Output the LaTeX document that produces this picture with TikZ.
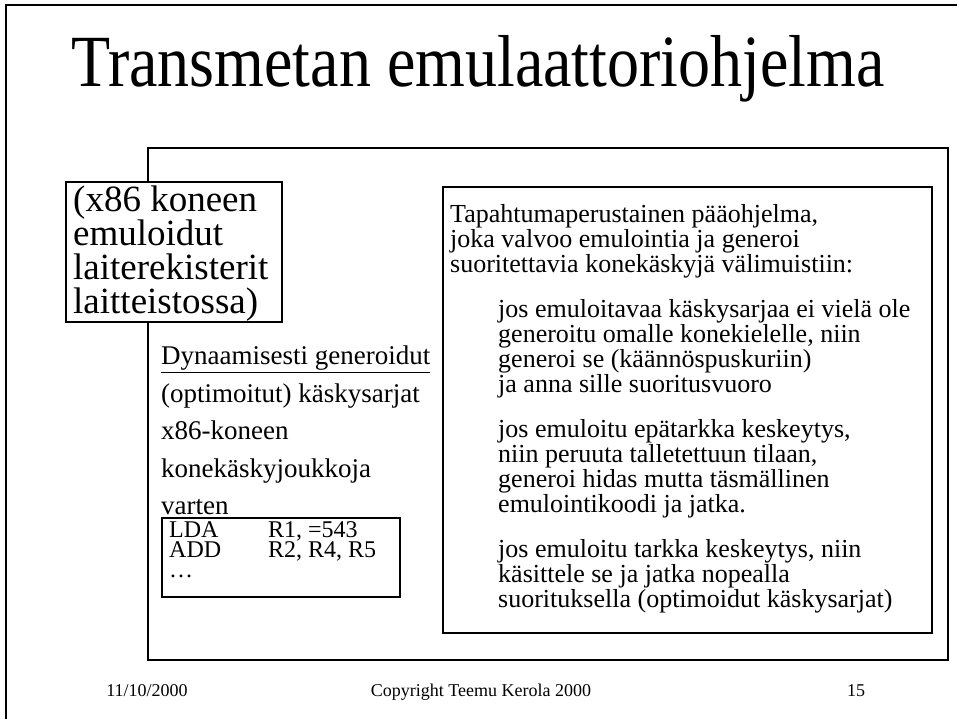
\documentclass[tikz,border=0pt]{standalone}
\usepackage{fontspec}
\setmainfont{Liberation Serif}

\begin{document}
\begin{tikzpicture}[x=1pt,y=-1pt,
	box/.style={draw=black,line width=1.3pt,fill=white,inner sep=0pt},
	txt/.style={inner sep=0pt,align=left,anchor=north west}]
	
	\useasboundingbox (0,0) rectangle (957,719);
	\draw[line width=2pt] (6,719) -- (6,5) -- (957,5);
	
	\node[anchor=base,inner sep=0pt,font=\fontsize{64}{70}\selectfont] (title) at (478, 87)
		{\scalebox{1}[1.15]{Transmetan emulaattoriohjelma}};
	
	\node[box,minimum width=800,minimum height=512] (emu) at (548, 404) {};
	\node[box,minimum width=216,minimum height=140] (regs) at (174, 252) {};
	\node[box,minimum width=489,minimum height=446] (prog) at (687.5, 410) {};
	\node[box,minimum width=238,minimum height=79] (code) at (281, 557.5) {};
	
	\node[txt,font=\fontsize{37}{34}\selectfont] (regtext) at (73, 186)
		{(x86 koneen\\emuloidut\\laiterekisterit\\laitteistossa)};
	
	\node[txt,font=\fontsize{27}{37.5}\selectfont] (dyn) at (161, 346)
		{\underline{Dynaamisesti generoidut}\\(optimoitut) käskysarjat\\x86-koneen\\konekäskyjoukkoja\\varten};
	
	\node[txt,font=\fontsize{24}{20}\selectfont] (ops) at (169, 521) {LDA\\ADD\\…};
	\node[txt,font=\fontsize{24}{20}\selectfont] (args) at (268, 521) {R1, =543\\R2, R4, R5};
	
	\node[txt,font=\fontsize{26}{25}\selectfont] (intro) at (450, 204)
		{Tapahtumaperustainen pääohjelma,\\joka valvoo emulointia ja generoi\\suoritettavia konekäskyjä välimuistiin:};
	\node[txt,font=\fontsize{26}{25}\selectfont] (case1) at (498, 299)
		{jos emuloitavaa käskysarjaa ei vielä ole\\generoitu omalle konekielelle, niin\\generoi se (käännöspuskuriin)\\ja anna sille suoritusvuoro};
	\node[txt,font=\fontsize{26}{25}\selectfont] (case2) at (498, 419)
		{jos emuloitu epätarkka keskeytys,\\niin peruuta talletettuun tilaan,\\generoi hidas mutta täsmällinen\\emulointikoodi ja jatka.};
	\node[txt,font=\fontsize{26}{25}\selectfont] (case3) at (498, 539)
		{jos emuloitu tarkka keskeytys, niin\\käsittele se ja jatka nopealla\\suorituksella (optimoidut käskysarjat)};
	
	\node[anchor=base,inner sep=0pt,font=\fontsize{18}{20}\selectfont] (date) at (147, 696) {11/10/2000};
	\node[anchor=base,inner sep=0pt,font=\fontsize{18}{20}\selectfont] (copy) at (481, 696) {Copyright Teemu Kerola 2000};
	\node[anchor=base,inner sep=0pt,font=\fontsize{18}{20}\selectfont] (page) at (856, 696) {15};
\end{tikzpicture}
\end{document}
